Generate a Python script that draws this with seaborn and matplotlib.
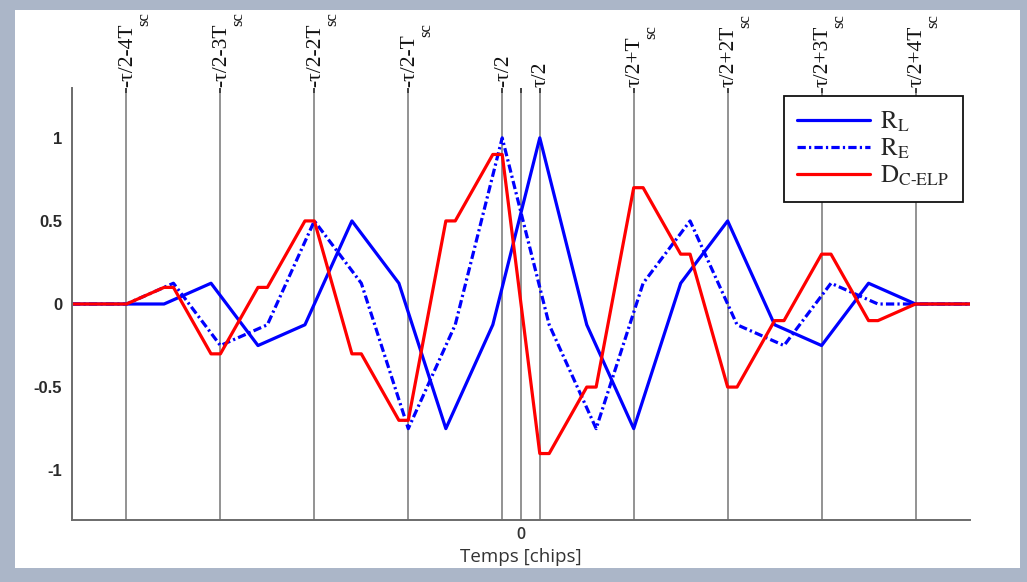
import matplotlib
matplotlib.use("Agg")
import matplotlib.pyplot as plt
import matplotlib.transforms as mtransforms
from matplotlib.patches import Rectangle
from matplotlib.lines import Line2D
import numpy as np
import pandas as pd
import seaborn as sns

# ---------------- data ----------------
# time axis in chips (Tsc = 0.5 chip, tau = 0.2 chip)
xs_L = [-2.39, -1.9, -1.65, -1.4, -1.15, -0.9, -0.65, -0.4, -0.15, 0.1,
        0.35, 0.6, 0.85, 1.1, 1.35, 1.6, 1.85, 2.1, 2.39]
ys_L = [0, 0, 0.125, -0.25, -0.125, 0.5, 0.125, -0.75, -0.125, 1,
        -0.125, -0.75, 0.125, 0.5, -0.125, -0.25, 0.125, 0, 0]

xs_E = [-2.39, -2.1, -1.85, -1.6, -1.35, -1.1, -0.85, -0.6, -0.35, -0.1,
        0.15, 0.4, 0.65, 0.9, 1.15, 1.4, 1.65, 1.9, 2.39]
ys_E = [0, 0, 0.125, -0.25, -0.125, 0.5, 0.125, -0.75, -0.125, 1,
        -0.125, -0.75, 0.125, 0.5, -0.125, -0.25, 0.125, 0, 0]

xs_D = [-2.39, -2.1, -1.9, -1.85, -1.65, -1.6, -1.4, -1.35, -1.15, -1.1,
        -0.9, -0.85, -0.65, -0.6, -0.4, -0.35, -0.15, -0.1, 0.1, 0.15,
        0.35, 0.4, 0.6, 0.65, 0.85, 0.9, 1.1, 1.15, 1.35, 1.4,
        1.6, 1.65, 1.85, 1.9, 2.1, 2.39]
ys_D = [0, 0, 0.1, 0.1, -0.3, -0.3, 0.1, 0.1, 0.5, 0.5,
        -0.3, -0.3, -0.7, -0.7, 0.5, 0.5, 0.9, 0.9, -0.9, -0.9,
        -0.5, -0.5, 0.7, 0.7, 0.3, 0.3, -0.5, -0.5, -0.1, -0.1,
        0.3, 0.3, -0.1, -0.1, 0, 0]

series_names = ["R_L", "R_E", "D_C-ELP"]
legend_labels = [r"$\mathrm{R}_{\mathrm{L}}$", r"$\mathrm{R}_{\mathrm{E}}$",
                 r"$\mathrm{D}_{\mathrm{C\text{-}ELP}}$"]

vline_pos = [-2.1, -1.6, -1.1, -0.6, -0.1, 0.0, 0.1, 0.6, 1.1, 1.6, 2.1]
top_pos = [-2.1, -1.6, -1.1, -0.6, -0.1, 0.1, 0.6, 1.1, 1.6, 2.1]
top_main = ["-τ/2-4T", "-τ/2-3T", "-τ/2-2T", "-τ/2-T", "-τ/2", "τ/2",
            "τ/2+T", "τ/2+2T", "τ/2+3T", "τ/2+4T"]
top_sub = ["sc", "sc", "sc", "sc", "", "", "sc", "sc", "sc", "sc"]
ytick_vals = [-1, -0.5, 0, 0.5, 1]
ytick_labels = ["-1", "-0.5", "0", "0.5", "1"]
xlabel = "Temps [chips]"

# ---------------- style ----------------
sns.set_style("white")
plt.rcParams["mathtext.fontset"] = "stix"
plt.rcParams["axes.unicode_minus"] = False

W, H = 1027, 582
fig = plt.figure(figsize=(W / 100, H / 100), dpi=100, facecolor="#abb6c8")
fig.add_artist(Rectangle((15 / W, 14 / H), 1005 / W, 558 / H,
                         transform=fig.transFigure, facecolor="white",
                         edgecolor="none", zorder=-5))
ax = fig.add_axes([72 / W, 62 / H, 898 / W, 432 / H])

df = pd.concat([
    pd.DataFrame({"x": xs_L, "y": ys_L, "series": series_names[0]}),
    pd.DataFrame({"x": xs_E, "y": ys_E, "series": series_names[1]}),
    pd.DataFrame({"x": xs_D, "y": ys_D, "series": series_names[2]}),
], ignore_index=True)

palette = {series_names[0]: "#0000ff", series_names[1]: "#0000ff",
           series_names[2]: "#ff0000"}
dashdot = (2.6, 1.0, 0.7, 1.0)
dashes = {series_names[0]: "", series_names[1]: dashdot, series_names[2]: ""}

sns.lineplot(data=df, x="x", y="y", hue="series", style="series",
             palette=palette, dashes=dashes, estimator=None, sort=False,
             linewidth=2.3, legend=False, ax=ax)

for p in vline_pos:
    ax.axvline(p, color="#939393", lw=1.4, zorder=0.5)

ax.set_xlim(-2.39, 2.39)
ax.set_ylim(-1.3, 1.3)

for s in ["top", "right"]:
    ax.spines[s].set_visible(False)
for s in ["left", "bottom"]:
    ax.spines[s].set_color("#6b6b6b")
    ax.spines[s].set_linewidth(1.4)

ax.set_yticks(ytick_vals)
ax.set_yticklabels(ytick_labels, fontfamily="Liberation Sans", fontsize=12,
                   fontweight="bold", color="#2a2a2a")
ax.tick_params(axis="y", direction="in", length=7, width=1, color="#555555",
               pad=7)

ax.set_xticks(vline_pos)
ax.set_xticklabels(["0" if p == 0 else "" for p in vline_pos],
                   fontfamily="Open Sans", fontsize=11.5, fontweight="semibold",
                   color="#333333")
ax.tick_params(axis="x", direction="in", length=3.5, width=1.2,
               color="#333333", pad=5, top=True)

ax.set_xlabel(xlabel, fontfamily="Open Sans", fontsize=13.5, color="#333333",
              labelpad=4)
ax.set_ylabel("")

# top rotated labels with separate subscript
base = mtransforms.blended_transform_factory(ax.transData, ax.transAxes)
mains = []
for p, lab in zip(top_pos, top_main):
    tr = base + mtransforms.ScaledTranslation(1.0 / 72, 1 / 72,
                                              fig.dpi_scale_trans)
    t = ax.text(p, 1.0, lab, transform=tr, rotation=90, ha="center",
                va="bottom", fontfamily="Liberation Serif", fontsize=15.5,
                color="#111111")
    mains.append(t)

fig.canvas.draw()
renderer = fig.canvas.get_renderer()
for p, t, sub in zip(top_pos, mains, top_sub):
    if not sub:
        continue
    bb = t.get_window_extent(renderer)
    tr = base + mtransforms.ScaledTranslation(18 / 100, 0, fig.dpi_scale_trans)
    y_axes = ax.transAxes.inverted().transform((0, bb.y1 - 3))[1]
    ax.text(p, y_axes, sub, transform=tr, rotation=90, ha="center",
            va="bottom", fontfamily="Liberation Serif", fontsize=12,
            color="#111111")

handles = [Line2D([], [], color="#0000ff", lw=2.3),
           Line2D([], [], color="#0000ff", lw=2.3, dashes=dashdot),
           Line2D([], [], color="#ff0000", lw=2.3)]
leg = ax.legend(handles, legend_labels, loc="upper right", fontsize=18,
                frameon=True, fancybox=False, framealpha=1,
                edgecolor="#111111", borderaxespad=0.3, handlelength=2.9,
                handletextpad=0.4, labelspacing=0.12, borderpad=0.55)
leg.get_frame().set_linewidth(1.3)

fig.savefig("out.png", dpi=100, facecolor=fig.get_facecolor())
